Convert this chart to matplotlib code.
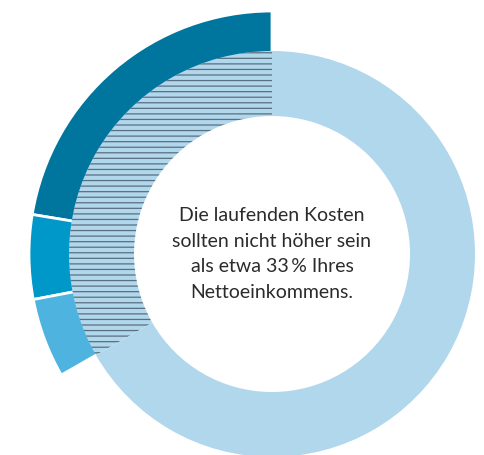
import matplotlib.pyplot as plt

# share of net income (percent)
ring_labels = ["Laufende Kosten", "Rest"]
ring_values = [33.3, 66.7]

outer_labels = ["Teil 1", "Teil 2", "Teil 3", ""]
outer_values = [22.4, 5.6, 5.3, 66.7]

ring_color = "#b1d7ed"
outer_colors = ["#00769e", "#0097c9", "#4eb4df", "none"]

note = "Die laufenden Kosten\nsollten nicht höher sein\nals etwa 33\u2009% Ihres\nNettoeinkommens."

plt.rcParams["hatch.linewidth"] = 0.9
plt.rcParams["font.family"] = ["Lato", "DejaVu Sans"]

fig = plt.figure(figsize=(4.84, 4.56), dpi=100)
ax = fig.add_axes([0, 0, 1, 1])

center = (272, 201)

# outer segments (drawn a bit into the ring so white edges hide under it)
wedges, _ = ax.pie(outer_values, colors=outer_colors, startangle=90,
                   counterclock=True, radius=243, center=center,
                   wedgeprops=dict(width=70, edgecolor="white", linewidth=2))
wedges[-1].set_edgecolor("none")

# main ring
ring, _ = ax.pie(ring_values, colors=[ring_color, ring_color], startangle=90,
                 counterclock=True, radius=203, center=center,
                 wedgeprops=dict(width=65, linewidth=0))
ring[0].set_hatch("---")
ring[0].set_edgecolor("#5b6f7e")
ring[0].set_linewidth(0)

ax.text(center[0], center[1] + 1, note, ha="center", va="center",
        fontsize=14, color="#2b2b2b", linespacing=1.62)

ax.set_xlim(0, 484)
ax.set_ylim(0, 456)
ax.set_aspect("equal")
ax.axis("off")

fig.savefig("out.png", dpi=100)
